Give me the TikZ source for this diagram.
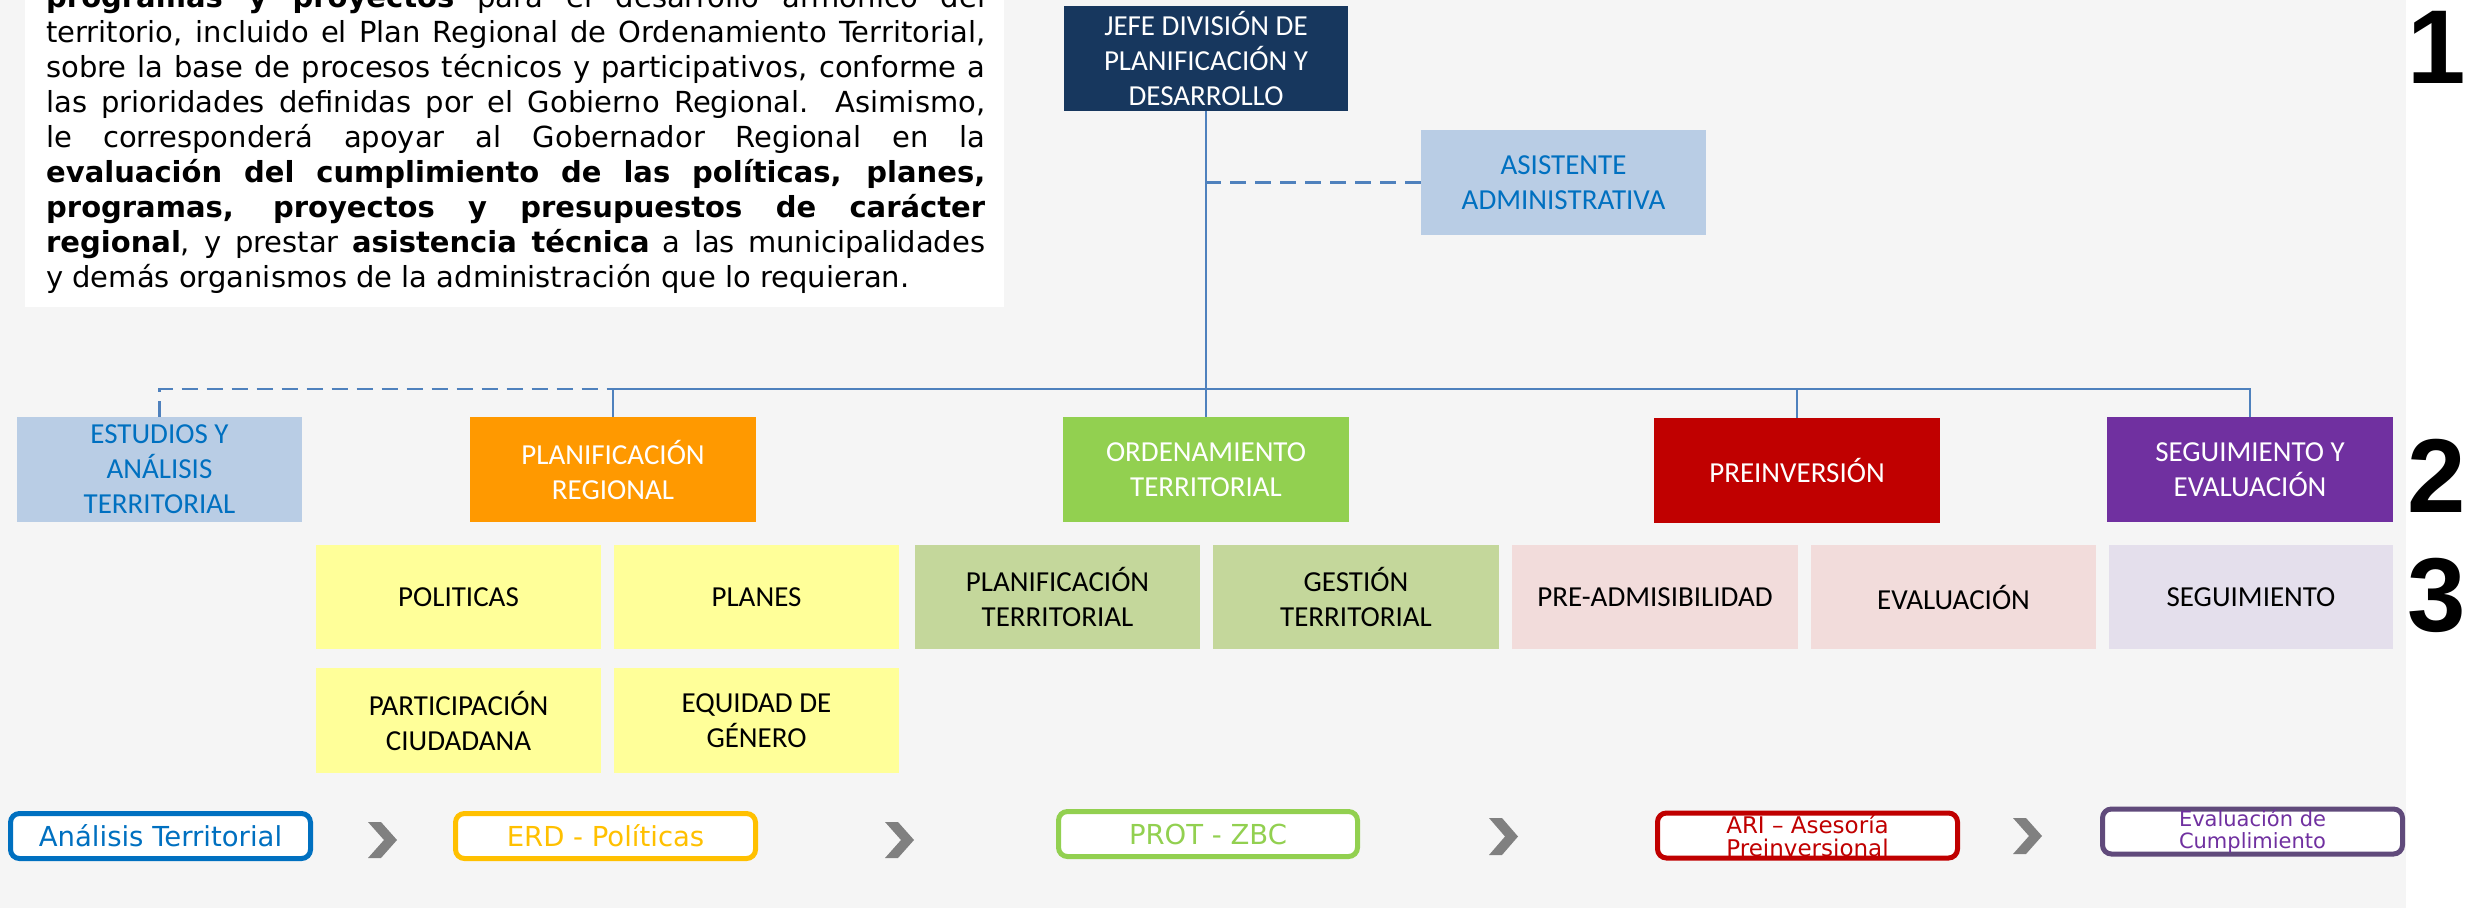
\documentclass[tikz,border=0pt]{standalone}
\usepackage{fontspec}
\setmainfont{Carlito}
\newfontfamily\para{DejaVu Sans}
\newfontfamily\digitfont{Liberation Sans}
\definecolor{bggrey}{HTML}{F5F5F5}
\definecolor{navy}{HTML}{17375E}
\definecolor{lblue}{HTML}{B9CDE5}
\definecolor{tblue}{HTML}{0070C0}
\definecolor{orng}{HTML}{FF9900}
\definecolor{grn}{HTML}{92D050}
\definecolor{rd}{HTML}{C00000}
\definecolor{purp}{HTML}{7030A0}
\definecolor{ylw}{HTML}{FFFF99}
\definecolor{olive}{HTML}{C4D79B}
\definecolor{pnk}{HTML}{F2DCDB}
\definecolor{lav}{HTML}{E4DFEC}
\definecolor{lineblue}{HTML}{4F81BD}
\definecolor{chev}{HTML}{808080}
\definecolor{ylwb}{HTML}{FFC000}
\definecolor{purpb}{HTML}{604A7B}
\begin{document}
\begin{tikzpicture}[x=1pt,y=-1pt,
  box/.style={draw=none, inner sep=2pt, align=center, minimum width=286pt, minimum height=105pt, font=\fontsize{29}{35}\selectfont},
  subbox/.style={box, minimum height=104pt, text=black},
  conn/.style={draw=lineblue, line width=2.5pt},
  dconn/.style={conn, dash pattern=on 16pt off 9pt},
  flow/.style={draw, line width=5pt, rounded corners=9pt, fill=white, minimum width=300pt, minimum height=45pt, inner sep=0pt, align=center, font=\para\fontsize{27.5}{30}\selectfont},
  digit/.style={anchor=base, inner sep=0pt, font=\digitfont\bfseries\fontsize{105}{105}\selectfont}
]
\useasboundingbox (0,0) rectangle (2471,908);
\fill[white] (0,0) rectangle (2471,908);
\fill[bggrey] (0,0) rectangle (2406,908);
% description box
\fill[white] (25,0) rectangle (1004,307);
\begin{scope}
\clip (25,0) rectangle (1004,307);
\node[anchor=north west, inner sep=0pt, text width=939pt, align=justify, font=\para\fontsize{29}{35}\selectfont] (desc) at (46,-18) {\noindent\emergencystretch=20pt\hyphenpenalty=10000\rule{0pt}{25pt}\textbf{programas y proyectos} para el desarrollo armónico del\linebreak
territorio, incluido el Plan Regional de Ordenamiento Territorial,\linebreak
sobre la base de procesos técnicos y participativos, conforme a\linebreak
las prioridades definidas por el Gobierno Regional. Asimismo,\linebreak
le corresponderá apoyar al Gobernador Regional en la\linebreak
\textbf{evaluación del cumplimiento de las políticas, planes,}\linebreak
\textbf{programas, proyectos y presupuestos de carácter}\linebreak
\textbf{regional}, y prestar \textbf{asistencia técnica} a las municipalidades\linebreak
y demás organismos de la administración que lo requieran.};
\end{scope}
% level 1
\node[box, fill=navy, text=white, minimum width=284pt] (jefe) at (1206,58.5) {JEFE DIVISIÓN DE\\PLANIFICACIÓN Y\\DESARROLLO};
\node[box, fill=lblue, text=tblue, minimum width=285pt] (asist) at (1563.5,182.5) {ASISTENTE\\ADMINISTRATIVA};
% level 2
\node[box, fill=lblue, text=tblue, minimum width=285pt] (est) at (159.5,469.5) {ESTUDIOS Y\\ANÁLISIS\\TERRITORIAL};
\node[box, fill=orng, text=white] (planreg) at (613,469.5) {PLANIFICACIÓN\\REGIONAL};
\node[box, fill=grn, text=white] (orden) at (1206,469.5) {ORDENAMIENTO\\TERRITORIAL};
\node[box, fill=rd, text=white] (prein) at (1797,470.5) {PREINVERSIÓN};
\node[box, fill=purp, text=white] (seg) at (2250,469.5) {SEGUIMIENTO Y\\EVALUACIÓN};
% level 3
\node[subbox, fill=ylw, minimum width=285pt] (pol) at (458.5,597) {POLITICAS};
\node[subbox, fill=ylw, minimum width=285pt] (planes) at (756.5,597) {PLANES};
\node[subbox, fill=ylw, minimum width=285pt, minimum height=105pt] (partic) at (458.5,720.5) {PARTICIPACIÓN\\CIUDADANA};
\node[subbox, fill=ylw, minimum width=285pt, minimum height=105pt] (equi) at (756.5,720.5) {EQUIDAD DE\\GÉNERO};
\node[subbox, fill=olive, minimum width=285pt] (planter) at (1057.5,597) {PLANIFICACIÓN\\TERRITORIAL};
\node[subbox, fill=olive] (gest) at (1356,597) {GESTIÓN\\TERRITORIAL};
\node[subbox, fill=pnk] (preadm) at (1655,597) {PRE-ADMISIBILIDAD};
\node[subbox, fill=pnk, minimum width=285pt] (eval) at (1953.5,597) {EVALUACIÓN};
\node[subbox, fill=lav, minimum width=284pt] (segui) at (2251,597) {SEGUIMIENTO};
% connectors
\coordinate (bus) at (0,389);
\draw[conn] (jefe.south) -- (orden.north);
\draw[dconn] (asist.west) -- (asist.west -| jefe.south);
\draw[conn] (planreg.north) -- (planreg.north |- bus) -- (seg.north |- bus) -- (seg.north);
\draw[conn] (prein.north) -- (prein.north |- bus);
\draw[dconn] (est.north) -- (est.north |- bus) -- (jefe.south |- bus);
% flow
\node[flow, draw=tblue, text=tblue] (anal) at (160.5,836) {Análisis Territorial};
\node[flow, draw=ylwb, text=ylwb] (erd) at (605.5,836) {ERD - Políticas};
\node[flow, draw=grn, text=grn, minimum width=299pt] (prot) at (1208,834) {PROT - ZBC};
\node[flow, draw=rd, text=rd, font=\para\fontsize{23}{23}\selectfont] (ari) at (1807.5,835.5) {ARI – Asesoría\\Preinversional};
\node[flow, draw=purpb, text=purp, font=\para\fontsize{21}{22.5}\selectfont] (evc) at (2252.5,831.5) {Evaluación de\\Cumplimiento};
% chevrons
\foreach \x/\t/\b in {368/822/858, 885/822/858, 1489/818/855, 2013/818/854}{
  \fill[chev] (\x,\t) -- ({\x+13},\t) -- ({\x+29},{(\t+\b)/2}) -- ({\x+13},\b) -- (\x,\b) -- ({\x+16},{(\t+\b)/2}) -- cycle;
}
% digits
\node[digit] (d1) at (2437,83) {1};
\node[digit] (d2) at (2437,512) {2};
\node[digit] (d3) at (2437,631) {3};
\end{tikzpicture}
\end{document}
